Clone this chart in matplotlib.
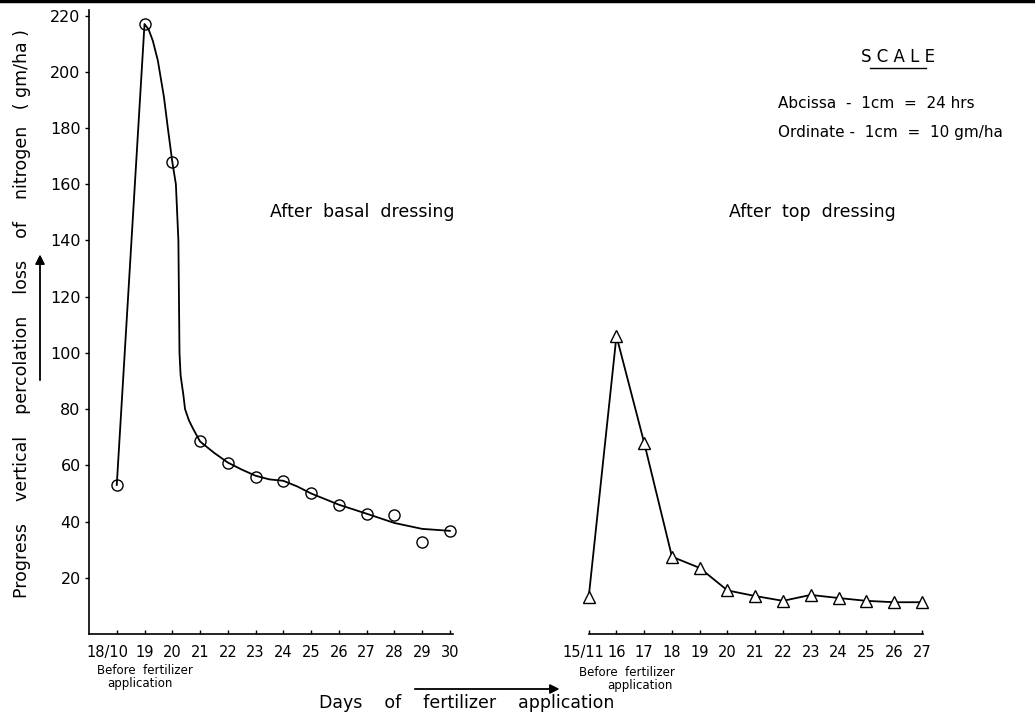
import numpy as np
import matplotlib
matplotlib.use('Agg')
import matplotlib.pyplot as plt
from matplotlib.lines import Line2D
from matplotlib.transforms import ScaledTranslation

# measured nitrogen loss (gm/ha) after basal dressing, days 18/10 .. 30
basal_days = ['18/10', '19', '20', '21', '22', '23', '24', '25', '26', '27', '28', '29', '30']
basal_pos = [1, 2, 3, 4, 5, 6, 7, 8, 9, 10, 11, 12, 13]
basal_loss = [53, 217, 168, 68.5, 61, 56, 54.5, 50, 46, 42.7, 42.5, 32.7, 36.7]

# hand-fitted curve through the basal points
basal_curve_x = [1, 2, 2.15, 2.3, 2.48, 2.7, 2.84, 3, 3.13, 3.22, 3.24, 3.26, 3.3, 3.4,
                 3.46, 3.6, 3.75, 4, 4.5, 5, 5.5, 6, 6.5, 7, 7.5, 8, 9, 10, 11, 12, 13]
basal_curve_y = [53, 217, 215, 211, 204, 191, 180, 168, 160, 140, 120, 100, 92, 85,
                 80, 76, 73, 68.5, 64.5, 61, 58.5, 56.3, 55, 54.5, 52.5, 50, 46, 42.8, 39.5, 37.4, 36.7]

# after top dressing, days 15/11 .. 27
top_days = ['15/11', '16', '17', '18', '19', '20', '21', '22', '23', '24', '25', '26', '27']
top_pos = [18, 19, 20, 21, 22, 23, 24, 25, 26, 27, 28, 29, 30]
top_loss = [13, 106, 68, 27.5, 23.5, 15.5, 13.5, 11.8, 13.9, 12.8, 11.8, 11.3, 11.3]

W, H = 1035, 713
unit = 27.76           # px per day
yscale = 2.811         # px per gm/ha
x0, y0 = 89, 634       # pixel of (0, 0)
ytop = 222

fig = plt.figure(figsize=(W / 100, H / 100), dpi=100)

def px_axes(xa, xb):
    left = (x0 + xa * unit) / W
    width = (xb - xa) * unit / W
    bottom = (H - y0) / H
    height = ytop * yscale / H
    return fig.add_axes([left, bottom, width, height])

ax1 = px_axes(0, 13.1)
ax2 = px_axes(18, 30.05)

for ax in (ax1, ax2):
    ax.set_ylim(0, ytop)
    ax.spines['top'].set_visible(False)
    ax.spines['right'].set_visible(False)
    ax.spines['bottom'].set_linewidth(1.2)
    ax.tick_params(axis='x', direction='in', length=3, width=1, pad=8, labelsize=10.5)
    ax.patch.set_alpha(0)

ax1.set_xlim(0, 13.1)
ax2.set_xlim(18, 30.05)
ax2.spines['left'].set_visible(False)
ax2.set_yticks([])
ax1.spines['left'].set_linewidth(1.2)
ax1.set_yticks(np.arange(20, 221, 20))
ax1.tick_params(axis='y', direction='out', length=3, width=1, labelsize=11.5, pad=3)

ax1.set_xticks(basal_pos)
ax1.set_xticklabels(basal_days)
ax2.set_xticks(top_pos)
ax2.set_xticklabels(top_days)

# first date labels sit a little left of their ticks, as in the original
for ax, dx in ((ax1, -0.09), (ax2, -0.05)):
    lab = ax.xaxis.get_major_ticks()[0].label1
    lab.set_transform(lab.get_transform() + ScaledTranslation(dx, 0, fig.dpi_scale_trans))

ax1.plot(basal_curve_x, basal_curve_y, color='black', lw=1.3, clip_on=False)
ax1.plot(basal_pos, basal_loss, 'o', mfc='none', mec='black', ms=8, mew=1, clip_on=False)
ax2.plot(top_pos, top_loss, color='black', lw=1.3, marker='^', mfc='white', mec='black',
         ms=8.5, mew=1, clip_on=False)

def fx(px):
    return px / W

def fy(py):
    return 1 - py / H

# labels
fig.text(fx(22), fy(314), 'Progress    vertical    percolation    loss    of    nitrogen   ( gm/ha )',
         rotation=90, ha='center', va='center', fontsize=12.5)
fig.text(fx(362), fy(212), 'After  basal  dressing', ha='center', va='center', fontsize=12.5)
fig.text(fx(812), fy(212), 'After  top  dressing', ha='center', va='center', fontsize=12.5)
fig.text(fx(467), fy(703), 'Days    of    fertilizer    application', ha='center', va='center', fontsize=12.5)

fig.text(fx(145), fy(670), 'Before  fertilizer', ha='center', va='center', fontsize=8.5)
fig.text(fx(140), fy(683), 'application', ha='center', va='center', fontsize=8.5)
fig.text(fx(627), fy(672), 'Before  fertilizer', ha='center', va='center', fontsize=8.5)
fig.text(fx(640), fy(686), 'application', ha='center', va='center', fontsize=8.5)

fig.text(fx(898), fy(57), 'S C A L E', ha='center', va='center', fontsize=12)
fig.add_artist(Line2D([fx(870), fx(926)], [fy(68), fy(68)], color='black', lw=1))
fig.text(fx(778), fy(103), 'Abcissa  -  1cm  =  24 hrs', ha='left', va='center', fontsize=11)
fig.text(fx(778), fy(133), 'Ordinate -  1cm  =  10 gm/ha', ha='left', va='center', fontsize=11)

# arrows
fig.add_artist(plt.annotate('', xy=(40, H - 252), xytext=(40, H - 383), xycoords='figure pixels',
                            arrowprops=dict(arrowstyle='-|>', color='black', lw=1, mutation_scale=14)))
fig.add_artist(plt.annotate('', xy=(562, H - 689), xytext=(412, H - 689), xycoords='figure pixels',
                            arrowprops=dict(arrowstyle='-|>', color='black', lw=1, mutation_scale=14)))

# scan border at top
fig.add_artist(Line2D([0, 1], [fy(1), fy(1)], color='black', lw=2.5))

fig.savefig('out.png', dpi=100)
